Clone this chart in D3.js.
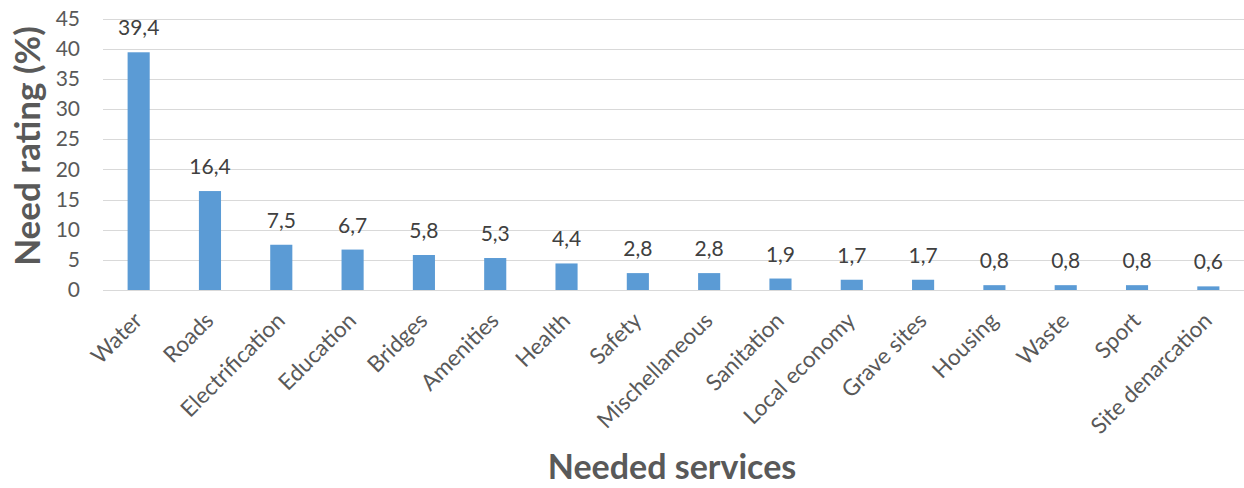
<!DOCTYPE html>
<html>
<head>
<meta charset="utf-8">
<script src="https://cdn.jsdelivr.net/npm/d3@7"></script>
<style>
  html, body { margin: 0; padding: 0; background: #fff; }
  svg { display: block; }
  text { font-family: Lato, "Open Sans", sans-serif; }
</style>
</head>
<body>
<svg id="chart" width="1244" height="488"></svg>
<script>
// Needed services and their need rating (%)
const categories = ["Water", "Roads", "Electrification", "Education", "Bridges", "Amenities",
  "Health", "Safety", "Mischellaneous", "Sanitation", "Local economy", "Grave sites",
  "Housing", "Waste", "Sport", "Site denarcation"];
const ratings = [39.4, 16.4, 7.5, 6.7, 5.8, 5.3, 4.4, 2.8, 2.8, 1.9, 1.7, 1.7, 0.8, 0.8, 0.8, 0.6];
const yTicks = [0, 5, 10, 15, 20, 25, 30, 35, 40, 45];

const svg = d3.select("#chart");
const margin = { left: 103, right: 0, top: 18.5, bottom: 198 };
const W = 1244, H = 488;
const textColor = "#595959";

const x = d3.scaleBand()
  .domain(categories)
  .range([margin.left, W - margin.right])
  .paddingInner(0.69)
  .paddingOuter(0.345);

const y = d3.scaleLinear()
  .domain([0, 45])
  .range([H - margin.bottom, margin.top]);

// Horizontal gridlines
svg.append("g")
  .selectAll("line")
  .data(yTicks)
  .join("line")
  .attr("x1", margin.left)
  .attr("x2", W - margin.right)
  .attr("y1", d => Math.round(y(d)) + 0.5)
  .attr("y2", d => Math.round(y(d)) + 0.5)
  .attr("stroke", "#d9d9d9")
  .attr("stroke-width", 1);

// Y axis tick labels
const yAxis = d3.axisLeft(y).tickValues(yTicks).tickSize(0).tickPadding(23);
svg.append("g")
  .attr("transform", `translate(${margin.left},0)`)
  .call(yAxis)
  .call(g => g.select(".domain").remove())
  .call(g => g.selectAll("text")
    .attr("fill", textColor)
    .style("font-size", "21px")
    .style("font-family", "Lato, sans-serif"));

// Bars
svg.append("g")
  .selectAll("rect")
  .data(ratings)
  .join("rect")
  .attr("x", (d, i) => x(categories[i]))
  .attr("width", x.bandwidth())
  .attr("y", d => y(d))
  .attr("height", d => y(0) - y(d))
  .attr("fill", "#5b9bd5");

// Value labels above bars
const fmt = v => d3.format(".1f")(v).replace(".", ",");
svg.append("g")
  .selectAll("text")
  .data(ratings)
  .join("text")
  .attr("x", (d, i) => x(categories[i]) + x.bandwidth() / 2)
  .attr("y", d => y(d) - 17)
  .attr("text-anchor", "middle")
  .attr("fill", "#404040")
  .style("font-size", "21px")
  .text(fmt);

// X axis category labels, rotated
const xAxis = d3.axisBottom(x).tickSize(0).tickPadding(0);
svg.append("g")
  .attr("transform", `translate(0,${y(0)})`)
  .call(xAxis)
  .call(g => g.select(".domain").remove())
  .call(g => g.selectAll("text")
    .attr("fill", textColor)
    .style("font-size", "22.5px")
    .style("font-family", "Lato, sans-serif")
    .attr("text-anchor", "end")
    .attr("dy", "0")
    .attr("transform", "translate(5,32) rotate(-45)"));

// Axis titles
svg.append("text")
  .attr("x", 672)
  .attr("y", 479)
  .attr("text-anchor", "middle")
  .attr("fill", textColor)
  .style("font-size", "34px")
  .style("font-weight", "bold")
  .text("Needed services");

svg.append("text")
  .attr("transform", `translate(40,${146}) rotate(-90)`)
  .attr("text-anchor", "middle")
  .attr("fill", textColor)
  .style("font-size", "35px")
  .style("font-weight", "bold")
  .text("Need rating (%)");
</script>
</body>
</html>
